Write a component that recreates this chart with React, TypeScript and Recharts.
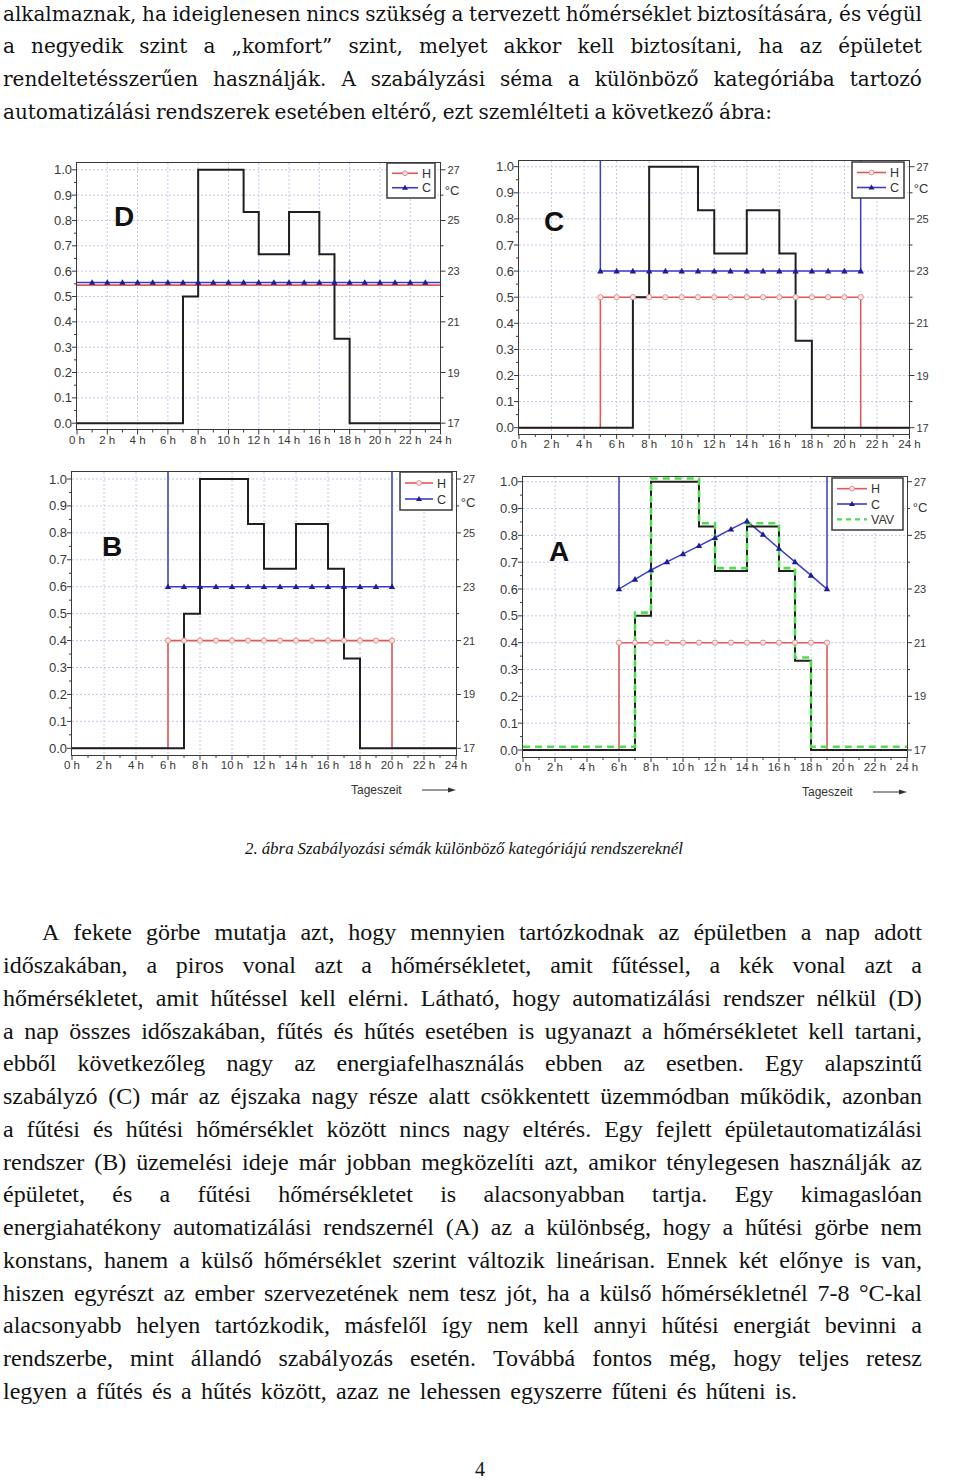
import React from 'react';
import { LineChart, Line, XAxis, YAxis, CartesianGrid } from 'recharts';

// hours of the day (x axis) and tick lists
const HOURS = [0, 1, 2, 3, 4, 5, 6, 7, 8, 9, 10, 11, 12, 13, 14, 15, 16, 17, 18, 19, 20, 21, 22, 23, 24];
const Y_TICKS = [0, 0.05, 0.1, 0.15, 0.2, 0.25, 0.3, 0.35, 0.4, 0.45, 0.5, 0.55, 0.6, 0.65, 0.7, 0.75, 0.8, 0.85, 0.9, 0.95, 1.0];
const Y_GRID = [0.1, 0.2, 0.3, 0.4, 0.5, 0.6, 0.7, 0.8, 0.9, 1.0];
const X_GRID = [2, 4, 6, 8, 10, 12, 14, 16, 18, 20, 22];
const T_TICKS = [17, 18, 19, 20, 21, 22, 23, 24, 25, 26, 27];

// occupancy (black step line), value applies from hour i to i+1
const OCCUPANCY = [0, 0, 0, 0, 0, 0, 0, 0.5, 1, 1, 1, 0.833, 0.667, 0.667, 0.833, 0.833, 0.667, 0.333, 0, 0, 0, 0, 0, 0, 0];
const VAV_A = [0.012, 0.012, 0.012, 0.012, 0.012, 0.012, 0.012, 0.512, 1.012, 1.012, 1.012, 0.845, 0.678, 0.678, 0.845, 0.845, 0.678, 0.345, 0.012, 0.012, 0.012, 0.012, 0.012, 0.012, 0.012];

// setpoints in °C (31 = switched off, above the chart)
const HEAT_D = [22.45, 22.45, 22.45, 22.45, 22.45, 22.45, 22.45, 22.45, 22.45, 22.45, 22.45, 22.45, 22.45, 22.45, 22.45, 22.45, 22.45, 22.45, 22.45, 22.45, 22.45, 22.45, 22.45, 22.45, 22.45];
const COOL_D = [22.55, 22.55, 22.55, 22.55, 22.55, 22.55, 22.55, 22.55, 22.55, 22.55, 22.55, 22.55, 22.55, 22.55, 22.55, 22.55, 22.55, 22.55, 22.55, 22.55, 22.55, 22.55, 22.55, 22.55, 22.55];
const COOL_MARK_D = [null, 22.55, 22.55, 22.55, 22.55, 22.55, 22.55, 22.55, 22.55, 22.55, 22.55, 22.55, 22.55, 22.55, 22.55, 22.55, 22.55, 22.55, 22.55, 22.55, 22.55, 22.55, 22.55, 22.55, null];

const HEAT_C = [17, 17, 17, 17, 17, 22, 22, 22, 22, 22, 22, 22, 22, 22, 22, 22, 22, 22, 22, 22, 22, 17, 17, 17, 17];
const COOL_C = [31, 31, 31, 31, 31, 23, 23, 23, 23, 23, 23, 23, 23, 23, 23, 23, 23, 23, 23, 23, 23, 31, 31, 31, 31];
const HEAT_MARK_C = [null, null, null, null, null, 22, 22, 22, 22, 22, 22, 22, 22, 22, 22, 22, 22, 22, 22, 22, 22, 22, null, null, null];
const COOL_MARK_C = [null, null, null, null, null, 23, 23, 23, 23, 23, 23, 23, 23, 23, 23, 23, 23, 23, 23, 23, 23, 23, null, null, null];

const HEAT_B = [17, 17, 17, 17, 17, 17, 21, 21, 21, 21, 21, 21, 21, 21, 21, 21, 21, 21, 21, 21, 17, 17, 17, 17, 17];
const COOL_B = [31, 31, 31, 31, 31, 31, 23, 23, 23, 23, 23, 23, 23, 23, 23, 23, 23, 23, 23, 23, 31, 31, 31, 31, 31];
const HEAT_MARK_B = [null, null, null, null, null, null, 21, 21, 21, 21, 21, 21, 21, 21, 21, 21, 21, 21, 21, 21, 21, null, null, null, null];
const COOL_MARK_B = [null, null, null, null, null, null, 23, 23, 23, 23, 23, 23, 23, 23, 23, 23, 23, 23, 23, 23, 23, null, null, null, null];

const HEAT_A = [17, 17, 17, 17, 17, 17, 21, 21, 21, 21, 21, 21, 21, 21, 21, 21, 21, 21, 21, 17, 17, 17, 17, 17, 17];
const HEAT_MARK_A = [null, null, null, null, null, null, 21, 21, 21, 21, 21, 21, 21, 21, 21, 21, 21, 21, 21, 21, null, null, null, null, null];
const COOL_A_HOURS = [6, 6, 7, 8, 9, 10, 11, 12, 13, 14, 15, 16, 17, 18, 19, 19];
const COOL_A = [31, 23, 23.36, 23.71, 24.01, 24.31, 24.61, 24.91, 25.23, 25.53, 25.03, 24.51, 24.01, 23.51, 23, 31];

const TOP_LINES = [
  'alkalmaznak, ha ideiglenesen nincs szükség a tervezett hőmérséklet biztosítására, és végül',
  'a negyedik szint a „komfort” szint, melyet akkor kell biztosítani, ha az épületet',
  'rendeltetésszerűen használják. A szabályzási séma a különböző kategóriába tartozó',
  'automatizálási rendszerek esetében eltérő, ezt szemlélteti a következő ábra:',
];
const CAPTION = '2. ábra Szabályozási sémák különböző kategóriájú rendszereknél';
const BODY_LINES = [
  'A fekete görbe mutatja azt, hogy mennyien tartózkodnak az épületben a nap adott',
  'időszakában, a piros vonal azt a hőmérsékletet, amit fűtéssel, a kék vonal azt a',
  'hőmérsékletet, amit hűtéssel kell elérni. Látható, hogy automatizálási rendszer nélkül (D)',
  'a nap összes időszakában, fűtés és hűtés esetében is ugyanazt a hőmérsékletet kell tartani,',
  'ebből következőleg nagy az energiafelhasználás ebben az esetben. Egy alapszintű',
  'szabályzó (C) már az éjszaka nagy része alatt csökkentett üzemmódban működik, azonban',
  'a fűtési és hűtési hőmérséklet között nincs nagy eltérés. Egy fejlett épületautomatizálási',
  'rendszer (B) üzemelési ideje már jobban megközelíti azt, amikor ténylegesen használják az',
  'épületet, és a fűtési hőmérsékletet is alacsonyabban tartja. Egy kimagaslóan',
  'energiahatékony automatizálási rendszernél (A) az a különbség, hogy a hűtési görbe nem',
  'konstans, hanem a külső hőmérséklet szerint változik lineárisan. Ennek két előnye is van,',
  'hiszen egyrészt az ember szervezetének nem tesz jót, ha a külső hőmérsékletnél 7-8 °C-kal',
  'alacsonyabb helyen tartózkodik, másfelől így nem kell annyi hűtési energiát bevinni a',
  'rendszerbe, mint állandó szabályozás esetén. Továbbá fontos még, hogy teljes retesz',
  'legyen a fűtés és a hűtés között, azaz ne lehessen egyszerre fűteni és hűteni is.',
];

const RED = '#e25858';
const BLUE = '#3b3bc9';
const TRI = '#1d1d9c';
const BLACK = '#1f1f1f';
const GREEN = '#52dc52';
const GRID = '#c4c8ea';
const AXIS = '#3a3a3a';
const LABEL = '#383838';
const SANS = '"Liberation Sans", Arial, sans-serif';
const SERIF = '"Liberation Serif", "Times New Roman", serif';
const WIDE_SERIF = '"DejaVu Serif", serif';

const triDot = (p: any) => {
  const { cx, cy, index, value } = p;
  if (value == null || cy == null || isNaN(cy) || value > 27.5) return <g key={`t${index}`} />;
  return <path key={`t${index}`} d={`M${cx},${cy - 3.3}L${cx + 3.2},${cy + 2.3}L${cx - 3.2},${cy + 2.3}Z`} fill={TRI} />;
};

const circleDot = (p: any) => {
  const { cx, cy, index, value } = p;
  if (value == null || cy == null || isNaN(cy)) return <g key={`c${index}`} />;
  return <circle key={`c${index}`} cx={cx} cy={cy} r={2.6} fill="#fdeaea" stroke="#e98a8a" strokeWidth={1} />;
};

const XTick = (p: any) => {
  const { x, y, payload } = p;
  const major = payload.value % 2 === 0;
  return (
    <g>
      <line x1={x} x2={x} y1={y} y2={y + (major ? 5 : 3)} stroke={AXIS} />
      {major && (
        <text x={x} y={y + 14} textAnchor="middle" fontSize={11.5} fontFamily={SANS} fill={LABEL}>
          {`${payload.value} h`}
        </text>
      )}
    </g>
  );
};

const LeftTick = (p: any) => {
  const { x, y, payload } = p;
  const major = Math.round(payload.value * 100) % 10 === 0;
  return (
    <g>
      <line x1={x} x2={x - (major ? 5 : 3)} y1={y} y2={y} stroke={AXIS} />
      {major && (
        <text x={x - 5} y={y + 4.5} textAnchor="end" fontSize={13} fontFamily={SANS} fill={LABEL}>
          {payload.value.toFixed(1)}
        </text>
      )}
    </g>
  );
};

const RightTick = (p: any) => {
  const { x, y, payload } = p;
  const major = payload.value % 2 === 1;
  return (
    <g>
      <line x1={x} x2={x + (major ? 5 : 3)} y1={y} y2={y} stroke={AXIS} />
      {major && (
        <text x={x + 7} y={y + 4} textAnchor="start" fontSize={11} fontFamily={SANS} fill={LABEL}>
          {payload.value}
        </text>
      )}
    </g>
  );
};

type Box = { L: number; T: number; R: number; B: number; y0: number; y1: number };
type LegendRow = { label: string; color: string; marker: 'circle' | 'tri' | 'dash' };

function LegendBox({ left, top, width, height, rows, sample }: { left: number; top: number; width: number; height: number; rows: LegendRow[]; sample: number }) {
  const step = (height - 6) / rows.length;
  return (
    <svg style={{ position: 'absolute', left, top, overflow: 'visible' }} width={width} height={height}>
      <rect x={0} y={0} width={width} height={height} fill="#fff" stroke={AXIS} strokeWidth={1.5} />
      {rows.map((r, i) => {
        const cy = 3 + step * (i + 0.5);
        const mid = 5 + sample / 2;
        return (
          <g key={r.label}>
            <line x1={5} x2={5 + sample} y1={cy} y2={cy} stroke={r.color} strokeWidth={r.marker === 'dash' ? 2.2 : 1.6} strokeDasharray={r.marker === 'dash' ? '5 4' : undefined} />
            {r.marker === 'circle' && <circle cx={mid} cy={cy} r={2.4} fill="#fdeaea" stroke="#e98a8a" />}
            {r.marker === 'tri' && <path d={`M${mid},${cy - 3}L${mid + 3},${cy + 2}L${mid - 3},${cy + 2}Z`} fill={TRI} />}
            <text x={sample + 9} y={cy + 4.5} fontSize={12.5} fontFamily={SANS} fill="#333">{r.label}</text>
          </g>
        );
      })}
    </svg>
  );
}

type PanelProps = {
  box: Box;
  heat: number[];
  cool?: number[];
  heatMark?: (number | null)[];
  coolMark?: (number | null)[];
  vav?: number[];
  coolLine?: { h: number; t: number }[];
  letter: string;
  letterPos: [number, number];
  legend: { left: number; top: number; width: number; height: number; sample: number };
  celsius: [number, number];
  tageszeit?: boolean;
};

function Panel({ box, heat, cool, heatMark, coolMark, vav, coolLine, letter, letterPos, legend, celsius, tageszeit }: PanelProps) {
  const unit = box.y0 - box.y1;
  const hi = 1 + (box.y1 - box.T) / unit;
  const lo = -(box.B - box.y0) / unit;
  const ML = 50, MR = 50, MT = 10, MB = 40;
  const w = box.R - box.L + ML + MR;
  const h = box.B - box.T + MT + MB;
  const rows = HOURS.map((hr, i) => ({
    h: hr,
    occ: OCCUPANCY[i],
    heat: heat[i],
    cool: cool ? cool[i] : null,
    heatMark: heatMark ? heatMark[i] : null,
    coolMark: coolMark ? coolMark[i] : null,
    vav: vav ? vav[i] : null,
  }));
  const legendRows: LegendRow[] = [
    { label: 'H', color: RED, marker: 'circle' },
    { label: 'C', color: BLUE, marker: 'tri' },
  ];
  if (vav) legendRows.push({ label: 'VAV', color: GREEN, marker: 'dash' });
  return (
    <>
      <div style={{ position: 'absolute', left: box.L - ML, top: box.T - MT, width: w, height: h }}>
        <LineChart width={w} height={h} data={rows} margin={{ top: MT, right: MR - 30, bottom: MB - 30, left: ML - 40 }}>
          <CartesianGrid stroke={GRID} strokeDasharray="2 2" horizontalValues={Y_GRID} verticalValues={X_GRID} />
          <XAxis type="number" dataKey="h" domain={[0, 24]} ticks={HOURS} interval={0} allowDataOverflow height={30} tickSize={0} tickMargin={0} axisLine={false} tickLine={false} tick={XTick} />
          <YAxis yAxisId={0} type="number" domain={[lo, hi]} ticks={Y_TICKS} interval={0} allowDataOverflow width={40} tickSize={0} tickMargin={0} axisLine={false} tickLine={false} tick={LeftTick} />
          <YAxis yAxisId="t" orientation="right" type="number" domain={[17 + 10 * lo, 17 + 10 * hi]} ticks={T_TICKS} interval={0} allowDataOverflow width={30} tickSize={0} tickMargin={0} axisLine={false} tickLine={false} tick={RightTick} />
          <Line yAxisId="t" dataKey="heat" type="stepAfter" stroke={RED} strokeWidth={1.6} dot={false} activeDot={false} isAnimationActive={false} />
          {cool && <Line yAxisId="t" dataKey="cool" type="stepAfter" stroke={BLUE} strokeWidth={1.5} dot={false} activeDot={false} isAnimationActive={false} />}
          {coolLine && <Line yAxisId="t" data={coolLine} dataKey="t" type="linear" stroke={BLUE} strokeWidth={1.5} dot={triDot} activeDot={false} isAnimationActive={false} />}
          <Line yAxisId={0} dataKey="occ" type="stepAfter" stroke={BLACK} strokeWidth={2} dot={false} activeDot={false} isAnimationActive={false} />
          {vav && <Line yAxisId={0} dataKey="vav" type="stepAfter" stroke={GREEN} strokeWidth={2.6} strokeDasharray="7 5" dot={false} activeDot={false} isAnimationActive={false} />}
          {heatMark && <Line yAxisId="t" dataKey="heatMark" stroke="none" dot={circleDot} activeDot={false} isAnimationActive={false} />}
          {coolMark && <Line yAxisId="t" dataKey="coolMark" stroke="none" dot={triDot} activeDot={false} isAnimationActive={false} />}
        </LineChart>
      </div>
      <div style={{ position: 'absolute', left: box.L - 0.75, top: box.T - 0.75, width: box.R - box.L + 1.5, height: box.B - box.T + 1.5, border: `1.5px solid ${AXIS}`, boxSizing: 'border-box', pointerEvents: 'none' }} />
      <LegendBox left={legend.left} top={legend.top} width={legend.width} height={legend.height} rows={legendRows} sample={legend.sample} />
      <div style={{ position: 'absolute', left: letterPos[0], top: letterPos[1], transform: 'translate(-50%, -50%)', fontFamily: SANS, fontWeight: 'bold', fontSize: 28, lineHeight: '28px', color: '#111' }}>{letter}</div>
      <div style={{ position: 'absolute', left: celsius[0], top: celsius[1], transform: 'translate(-50%, -50%)', fontFamily: SANS, fontSize: 13, lineHeight: '13px', color: '#333' }}>°C</div>
      {tageszeit && (
        <svg style={{ position: 'absolute', left: box.R - 110, top: box.B + 25 }} width={112} height={20}>
          <text x={5} y={14} fontSize={12} fontFamily={SANS} fill="#333">Tageszeit</text>
          <line x1={76} x2={106} y1={10} y2={10} stroke="#333" strokeWidth={1} />
          <path d="M110,10L102,7.5L102,12.5Z" fill="#333" />
        </svg>
      )}
    </>
  );
}

function TextLine({ text, left, right, baseline, size, italic, family = SERIF, ascent = 1.0875 }: { text: string; left: number; right: number; baseline: number; size: number; italic?: boolean; family?: string; ascent?: number }) {
  const words = text.split(' ');
  return (
    <div style={{ position: 'absolute', left, top: baseline - size * ascent, width: right - left, height: size * 1.5, lineHeight: `${size * 1.5}px`, display: 'flex', justifyContent: 'space-between', whiteSpace: 'nowrap', fontFamily: family, fontSize: size, fontStyle: italic ? 'italic' : 'normal', color: '#111' }}>
      {words.map((wd, i) => <span key={i}>{wd}</span>)}
    </div>
  );
}

export default function App() {
  return (
    <div style={{ position: 'absolute', left: 0, top: 0, width: 960, height: 1481, background: '#fff', overflow: 'hidden' }}>
      {TOP_LINES.map((t, i) => (
        <TextLine key={i} text={t} left={3} right={i === TOP_LINES.length - 1 ? 772 : 922} baseline={20.7 + i * 32.6} size={20} family={WIDE_SERIF} ascent={1.096} />
      ))}

      <Panel
        box={{ L: 76.5, T: 162.5, R: 440, B: 429, y0: 422.7, y1: 169.3 }}
        heat={HEAT_D} cool={COOL_D} coolMark={COOL_MARK_D}
        letter="D" letterPos={[124, 217]}
        legend={{ left: 387, top: 163, width: 48, height: 35, sample: 26 }}
        celsius={[452, 190]}
      />
      <Panel
        box={{ L: 518.5, T: 161, R: 909, B: 434, y0: 427.7, y1: 166.7 }}
        heat={HEAT_C} cool={COOL_C} heatMark={HEAT_MARK_C} coolMark={COOL_MARK_C}
        letter="C" letterPos={[554, 222]}
        legend={{ left: 852, top: 162, width: 52, height: 36, sample: 29 }}
        celsius={[921, 188]}
      />
      <Panel
        box={{ L: 72, T: 472, R: 456, B: 755, y0: 748.3, y1: 479 }}
        heat={HEAT_B} cool={COOL_B} heatMark={HEAT_MARK_B} coolMark={COOL_MARK_B}
        letter="B" letterPos={[112, 547]}
        legend={{ left: 400, top: 472, width: 52, height: 38, sample: 28 }}
        celsius={[468, 502]}
        tageszeit
      />
      <Panel
        box={{ L: 523, T: 477, R: 907, B: 757, y0: 750, y1: 481.7 }}
        heat={HEAT_A} heatMark={HEAT_MARK_A} vav={VAV_A}
        coolLine={COOL_A_HOURS.map((hr, i) => ({ h: hr, t: COOL_A[i] }))}
        letter="A" letterPos={[559, 552]}
        legend={{ left: 832, top: 478, width: 71, height: 52, sample: 30 }}
        celsius={[920, 507]}
        tageszeit
      />

      <TextLine text={CAPTION} left={245} right={683} baseline={854} size={16.9} italic />

      {BODY_LINES.map((t, i) => (
        <TextLine key={i} text={t} left={i === 0 ? 42 : 3} right={i === BODY_LINES.length - 1 ? 797 : 922} baseline={940.5 + i * 32.75} size={24} />
      ))}

      <div style={{ position: 'absolute', left: 470, top: 1476 - 20 * 1.0875, width: 20, height: 30, lineHeight: '30px', textAlign: 'center', fontFamily: SERIF, fontSize: 20, color: '#111' }}>4</div>
    </div>
  );
}
